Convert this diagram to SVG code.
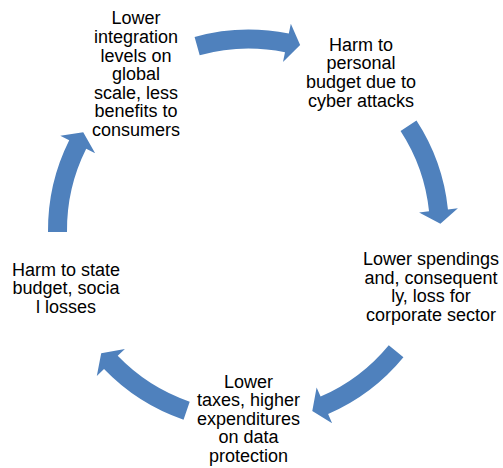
<svg xmlns="http://www.w3.org/2000/svg" xmlns:xlink="http://www.w3.org/1999/xlink" width="503" height="468" viewBox="0 0 503 468">
<style>
.lbl{font-family:"Liberation Sans",Arial,sans-serif;font-size:18px;fill:#000;text-anchor:middle}
.arr{fill:#4F81BD;stroke:none}
</style>
<defs>
<path id="carrow" class="arr" d="M -53.91,-193.12 A 200.5 200.5 0 0 1 40.32,-196.41 L 42.33,-206.21 L 51.63,-184.93 L 34.49,-168.00 L 36.50,-177.80 A 181.5 181.5 0 0 0 -48.81,-174.82 Z"/>
</defs>
<rect width="503" height="468" fill="#fff"/>
<g id="connectors">
<use xlink:href="#carrow" href="#carrow" transform="translate(248.5,230) rotate(0)"/>
<use xlink:href="#carrow" href="#carrow" transform="translate(248.5,230) rotate(72.5)"/>
<use xlink:href="#carrow" href="#carrow" transform="translate(248.5,230) rotate(145)"/>
<use xlink:href="#carrow" href="#carrow" transform="translate(248.5,230) rotate(214.5)"/>
<use xlink:href="#carrow" href="#carrow" transform="translate(248.5,230) rotate(285)"/>
</g>
<g id="node-integration">
<text class="lbl"><tspan x="136" y="24.3">Lower</tspan><tspan x="136" y="42.9">integration</tspan><tspan x="136" y="61.5">levels on</tspan><tspan x="136" y="80.1">global</tspan><tspan x="136" y="98.7">scale, less</tspan><tspan x="136" y="117.3">benefits to</tspan><tspan x="136" y="135.9">consumers</tspan></text>
</g>
<g id="node-personal">
<text class="lbl"><tspan x="361" y="50.7">Harm to</tspan><tspan x="361" y="69.3">personal</tspan><tspan x="361" y="87.9">budget due to</tspan><tspan x="361" y="106.5">cyber attacks</tspan></text>
</g>
<g id="node-corporate">
<text class="lbl"><tspan x="431" y="265">Lower spendings</tspan><tspan x="431" y="283.6">and, consequent</tspan><tspan x="431" y="302.2">ly, loss for</tspan><tspan x="431" y="320.8">corporate sector</tspan></text>
</g>
<g id="node-taxes">
<text class="lbl"><tspan x="248.5" y="387.5">Lower</tspan><tspan x="248.5" y="406.1">taxes, higher</tspan><tspan x="248.5" y="424.7">expenditures</tspan><tspan x="248.5" y="443.3">on data</tspan><tspan x="248.5" y="461.9">protection</tspan></text>
</g>
<g id="node-state">
<text class="lbl"><tspan x="66" y="275.7">Harm to state</tspan><tspan x="66" y="294.3">budget, socia</tspan><tspan x="66" y="312.9">l losses</tspan></text>
</g>
</svg>
